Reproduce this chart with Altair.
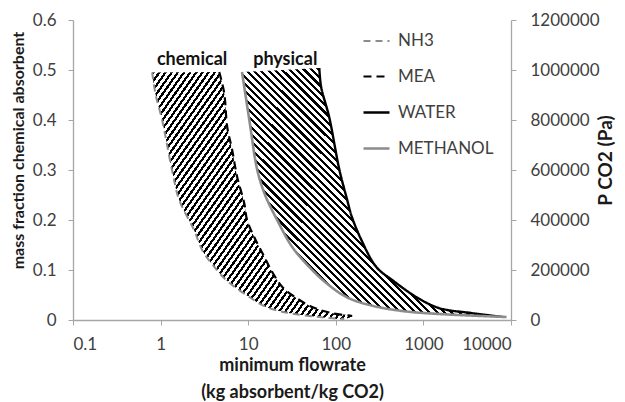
import math
import altair as alt
import pandas as pd

# ---------------- data ----------------
series_names = ["NH3", "MEA", "WATER", "METHANOL"]

nh3_x = [0.80, 0.88, 1.04, 1.35, 1.63, 2.41, 2.98, 3.78, 5.6, 10.3, 16, 29, 65, 125]
nh3_y = [0.495, 0.45, 0.40, 0.30, 0.24, 0.18, 0.14, 0.114, 0.08, 0.046, 0.026, 0.014, 0.006, 0.002]

mea_x = [4.67, 5.32, 5.76, 6.56, 7.48, 9.0, 9.7, 11.7, 14.5, 18.8, 24.5, 35.4, 53.9, 88.9, 154]
mea_y = [0.496, 0.454, 0.386, 0.34, 0.286, 0.234, 0.2, 0.166, 0.134, 0.096, 0.066, 0.044, 0.026, 0.014, 0.008]

water_x = [64.8, 68, 84, 110, 135, 150, 190, 290, 440, 830, 1500, 3500, 8000]
water_y = [0.504, 0.466, 0.406, 0.30, 0.24, 0.21, 0.165, 0.106, 0.08, 0.046, 0.024, 0.014, 0.006]

meth_x = [8.5, 10.3, 12.7, 15.6, 21.4, 31.8, 49.8, 77.8, 132, 241, 575, 1520, 8900]
meth_y = [0.496, 0.40, 0.30, 0.25, 0.20, 0.146, 0.106, 0.074, 0.046, 0.03, 0.018, 0.012, 0.006]

label_text = ["chemical", "physical"]
label_x = [2.29, 26.5]
label_y = [0.52, 0.52]

x_ticks = [0.1, 1, 10, 100, 1000, 10000]
y_ticks = [0, 0.1, 0.2, 0.3, 0.4, 0.5, 0.6]
p_ticks = [0, 200000, 400000, 600000, 800000, 1000000, 1200000]

# ---------------- tables ----------------
def curve(name, xs, ys):
    return pd.DataFrame({"series": name, "x": xs, "y": ys, "o": range(len(xs))})

lines_df = pd.concat([
    curve("NH3", nh3_x, nh3_y),
    curve("MEA", mea_x, mea_y),
    curve("WATER", water_x, water_y),
    curve("METHANOL", meth_x, meth_y),
], ignore_index=True)

def band(left_x, left_y, right_x, right_y):
    xs = list(left_x) + list(reversed(right_x))
    ys = list(left_y) + list(reversed(right_y))
    return pd.DataFrame({"x": xs, "y": ys, "o": range(len(xs))})

chem_df = band(nh3_x, nh3_y, mea_x, mea_y)
phys_df = band(meth_x, meth_y, water_x, water_y)
labels_df = pd.DataFrame({"text": label_text, "x": label_x, "y": label_y})
right_df = pd.DataFrame({"p": [p_ticks[0], p_ticks[-1]]})

# ---------------- hatch fill as striped gradient ----------------
def stripes(W, H, alpha_deg, period, frac, forward):
    a = math.radians(alpha_deg)
    if forward:
        dx, dy = math.sin(a) / H, math.cos(a) / W
        s = (dx + dy) / (dx * dx + dy * dy)
        x1, y1, x2, y2 = 0.0, 0.0, s * dx, s * dy
    else:
        dx, dy = math.sin(a) / H, -math.cos(a) / W
        s = (dx - dy) / (dx * dx + dy * dy)
        x1, y1, x2, y2 = 0.0, 1.0, s * dx, 1.0 + s * dy
    span = W * math.sin(a) + H * math.cos(a)
    n = int(round(span / period))
    stops = []
    for i in range(n):
        a0 = i / n
        b0 = (i + frac) / n
        c0 = (i + 1) / n
        stops += [
            {"offset": a0, "color": "#000000"},
            {"offset": b0, "color": "#000000"},
            {"offset": b0, "color": "#ffffff"},
            {"offset": c0, "color": "#ffffff"},
        ]
    return {"gradient": "linear", "x1": x1, "y1": y1, "x2": x2, "y2": y2, "stops": stops}

chem_fill = stripes(200, 250, 55, 5.0, 0.45, True)
phys_fill = stripes(264, 249, 45, 5.2, 0.42, False)

FONT = "Lato"
x_scale = alt.Scale(type="log", domain=[0.1, 10000])
y_scale = alt.Scale(domain=[0, 0.6])

x_enc = alt.X(
    "x:Q", scale=x_scale,
    axis=alt.Axis(
        values=x_ticks, format="~g", tickSize=5, labelPadding=11,
        title=["minimum flowrate", "(kg absorbent/kg CO2)"],
        titleFontSize=18, titleLineHeight=27, titleX=219, titleY=45,
        titleBaseline="middle", titleAlign="center",
    ),
)
y_enc = alt.Y(
    "y:Q", scale=y_scale,
    axis=alt.Axis(
        values=y_ticks, format=".1~f", tickSize=5, labelPadding=12,
        title="mass fraction chemical absorbent", titleFontSize=16,
        titleX=-55, titleY=130, titleAngle=270, titleBaseline="middle",
        titleAlign="center",
    ),
)

chem = alt.Chart(chem_df).mark_line(
    fill=chem_fill, strokeOpacity=0, interpolate="catmull-rom"
).encode(x=x_enc, y=y_enc, order="o:Q")

phys = alt.Chart(phys_df).mark_line(
    fill=phys_fill, strokeOpacity=0, interpolate="catmull-rom"
).encode(x=x_enc, y=y_enc, order="o:Q")

legend = alt.Legend(
    title=None, orient="none", legendX=289, legendY=7,
    symbolType="stroke", symbolSize=676, labelFont=FONT, labelFontSize=17,
    labelColor="#404040", labelOffset=7, rowPadding=13, padding=0,
)

lines = alt.Chart(lines_df).mark_line(interpolate="catmull-rom").encode(
    x=x_enc, y=y_enc, order="o:Q",
    color=alt.Color("series:N", scale=alt.Scale(
        domain=series_names, range=["#8c8c8c", "#000000", "#000000", "#8c8c8c"]), legend=legend),
    strokeDash=alt.StrokeDash("series:N", scale=alt.Scale(
        domain=series_names, range=[[7, 5], [8, 5], [1, 0], [1, 0]]), legend=legend),
    strokeWidth=alt.StrokeWidth("series:N", scale=alt.Scale(
        domain=series_names, range=[2, 2.6, 1.8, 2.2]), legend=legend),
)

texts = alt.Chart(labels_df).mark_text(
    font=FONT, fontSize=18, fontWeight="bold", color="#111111", baseline="middle"
).encode(x=alt.X("x:Q", scale=x_scale), y=alt.Y("y:Q", scale=y_scale), text="text:N")

right = alt.Chart(right_df).mark_point(opacity=0).encode(
    y=alt.Y("p:Q", scale=alt.Scale(domain=[0, 1200000]),
            axis=alt.Axis(orient="right", values=p_ticks, format="d", tickSize=5,
                          labelPadding=14, title="P CO2 (Pa)", titleFontSize=19,
                          titleX=94, titleY=140,
                          titleAngle=270, titleBaseline="middle", titleAlign="center"))
)

left_layer = alt.layer(chem, phys, lines, texts)
chart = alt.layer(left_layer, right).resolve_scale(y="independent").properties(
    width=438, height=300,
    autosize=alt.AutoSizeParams(type="none"),
    padding={"left": 73, "top": 20, "right": 114, "bottom": 82},
).configure_view(stroke=None).configure_axis(
    grid=False, domainColor="#a6a6a6", tickColor="#a6a6a6", domainWidth=1.3,
    labelColor="#404040", labelFont=FONT, labelFontSize=17,
    titleFont=FONT, titleColor="#1a1a1a", titleFontWeight="bold",
)

chart.save("out.html", embed_options={"renderer": "svg", "actions": False})
